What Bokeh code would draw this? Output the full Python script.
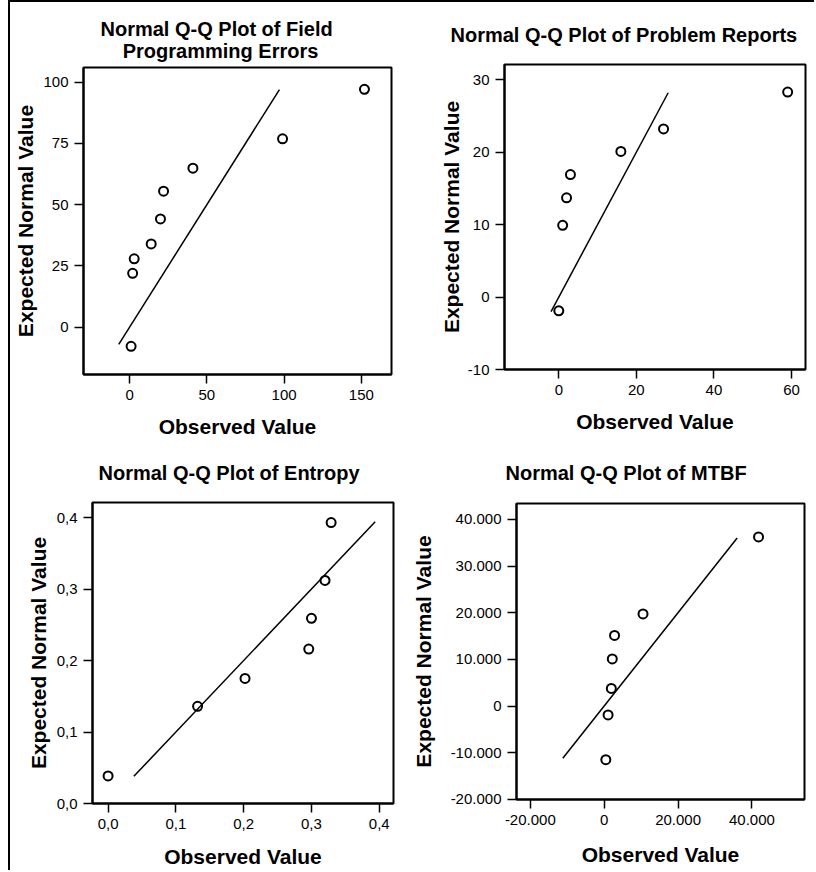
from bokeh.plotting import figure
from bokeh.layouts import row, column
from bokeh.models import Range1d, FixedTicker, CustomJSTickFormatter
from bokeh.embed import file_html
from bokeh.resources import INLINE

# ---------------- data ----------------
fpe_title = "Normal Q-Q Plot of Field\n\u00a0\u00a0\u00a0\u00a0Programming Errors"
fpe_observed = [1, 2, 3, 14, 20, 22, 41, 99, 152]
fpe_expected = [-7.8, 22.0, 27.9, 34.0, 44.2, 55.5, 64.9, 76.9, 97.1]
fpe_line = [-7.0, 97.0]
fpe_xticks = [0, 50, 100, 150]
fpe_yticks = [0, 25, 50, 75, 100]

pr_title = "Normal Q-Q Plot of Problem Reports"
pr_observed = [0, 1, 2, 3, 16, 27, 59]
pr_expected = [-1.9, 9.9, 13.7, 16.9, 20.1, 23.2, 28.3]
pr_line = [-2.0, 28.2]
pr_xticks = [0, 20, 40, 60]
pr_yticks = [-10, 0, 10, 20, 30]

ent_title = "Normal Q-Q Plot of Entropy"
ent_observed = [0.0, 0.132, 0.202, 0.296, 0.300, 0.320, 0.329]
ent_expected = [0.0386, 0.136, 0.175, 0.216, 0.259, 0.312, 0.393]
ent_line = [0.038, 0.394]
ent_xticks = [0.0, 0.1, 0.2, 0.3, 0.4]
ent_yticks = [0.0, 0.1, 0.2, 0.3, 0.4]

mtbf_title = "Normal Q-Q Plot of MTBF"
mtbf_observed = [440, 1050, 1930, 2190, 2800, 10510, 41780]
mtbf_expected = [-11500, -1900, 3760, 10090, 15130, 19740, 36220]
mtbf_line = [-11200, 36000]
mtbf_xticks = [-20000, 0, 20000, 40000]
mtbf_yticks = [-20000, -10000, 0, 10000, 20000, 30000, 40000]

x_label = "Observed Value"
y_label = "Expected Normal Value"

FONT = "Liberation Sans"

comma_fmt = CustomJSTickFormatter(code="return tick.toFixed(1).replace('.', ',');")
thousands_fmt = CustomJSTickFormatter(code="""
const s = Math.abs(Math.round(tick)).toString().replace(/\\B(?=(\\d{3})+(?!\\d))/g, '.');
return (tick < 0 ? '-' : '') + s;
""")
int_fmt = CustomJSTickFormatter(code="return Math.round(tick).toString();")


def make_panel(title, xs, ys, line, xr, yr, xt, yt, fmt, width, height,
               mb, t_off, t_stand, xl_stand, yl_stand):
    p = figure(width=width, height=height, output_backend="svg",
               toolbar_location=None, tools="",
               x_range=Range1d(*xr), y_range=Range1d(*yr),
               min_border_left=mb[0], min_border_right=mb[1],
               min_border_top=mb[2], min_border_bottom=mb[3])
    p.title.text = title
    p.title.align = "left"
    p.title.text_font = FONT
    p.title.text_font_style = "bold"
    p.title.text_font_size = "20px"
    p.title.text_color = "black"
    p.title.offset = t_off
    p.title.standoff = t_stand
    p.grid.visible = False
    p.outline_line_color = "black"
    p.outline_line_width = 2
    p.outline_line_alpha = 1
    p.background_fill_color = "white"
    p.border_fill_color = "white"

    for ax, ticks, lab, st in ((p.xaxis[0], xt, x_label, xl_stand),
                               (p.yaxis[0], yt, y_label, yl_stand)):
        ax.ticker = FixedTicker(ticks=ticks)
        ax.formatter = fmt
        ax.axis_label = lab
        ax.axis_label_text_font = FONT
        ax.axis_label_text_font_style = "bold"
        ax.axis_label_text_font_size = "21px"
        ax.axis_label_text_color = "black"
        ax.axis_label_standoff = st
        ax.major_label_text_font = FONT
        ax.major_label_text_font_size = "15px"
        ax.major_label_text_color = "black"
        ax.major_label_standoff = 6
        ax.major_tick_out = 9
        ax.major_tick_in = 0
        ax.minor_tick_out = 0
        ax.minor_tick_in = 0
        ax.major_tick_line_color = "black"
        ax.major_tick_line_width = 1.5
        ax.axis_line_color = "black"
        ax.axis_line_width = 2

    p.line(x=line, y=line, line_color="black", line_width=1.5)
    p.scatter(x=xs, y=ys, marker="circle", size=9, line_color="black",
              line_width=2, fill_alpha=0)
    return p


p1 = make_panel(fpe_title, fpe_observed, fpe_expected, fpe_line,
                (-29.8, 169.5), (-19.3, 106.0), fpe_xticks, fpe_yticks, int_fmt,
                400, 438, (73, 19, 65, 66), 17, 12, 12, 3)
p2 = make_panel(pr_title, pr_observed, pr_expected, pr_line,
                (-14.0, 63.6), (-10.0, 32.1), pr_xticks, pr_yticks, int_fmt,
                404, 438, (94, 9, 62, 71), -54, 38, 12, 2)
p3 = make_panel(ent_title, ent_observed, ent_expected, ent_line,
                (-0.023, 0.421), (0.0, 0.421), ent_xticks, ent_yticks, comma_fmt,
                398, 430, (82, 15, 61, 67), 6, 38, 13, 4)
p4 = make_panel(mtbf_title, mtbf_observed, mtbf_expected, mtbf_line,
                (-23740, 54225), (-20028, 43394), mtbf_xticks, mtbf_yticks, thousands_fmt,
                406, 430, (99, 10, 62, 71), -11, 39, 15, 13)

layout = column(row(column(p1), column(p2), spacing=0),
                row(column(p3), column(p4), spacing=0), spacing=0,
                styles={"border-top": "2px solid black", "border-left": "2px solid black",
                        "margin-left": "8px"})

open("out.html", "w").write(file_html(layout, INLINE))
